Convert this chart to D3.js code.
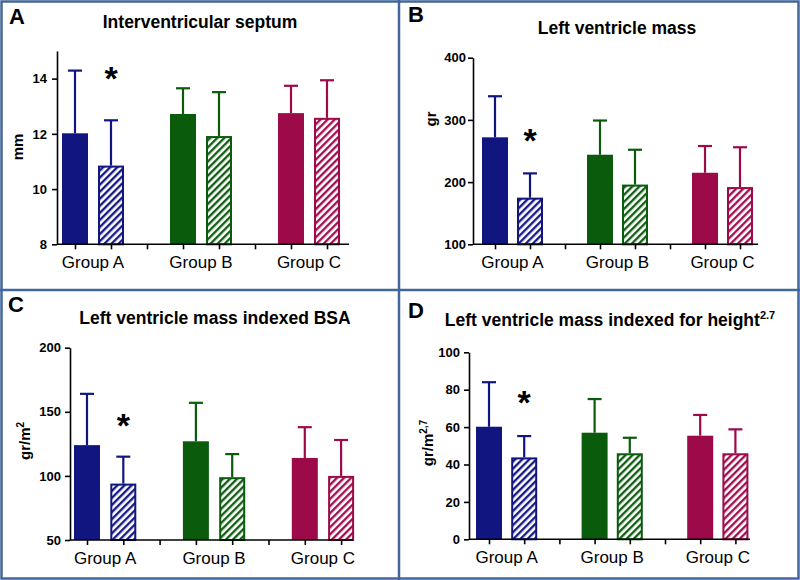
<!DOCTYPE html>
<html>
<head>
<meta charset="utf-8">
<script src="https://cdn.jsdelivr.net/npm/d3@7"></script>
<style>
  body { margin: 0; background: #fff; }
  svg text { font-family: Arial, "Liberation Sans", Helvetica, sans-serif; }
</style>
</head>
<body>
<div id="grafico"></div>
<script>
const width = 800;
const height = 580;

const groups = ['Group A', 'Group B', 'Group C'];
const groupColors = ['#11157f', '#0b5b0d', '#9c0a4a'];

// orden de barras: A lleno, A rayado, B lleno, B rayado, C lleno, C rayado
const septumMean = [12.02, 10.85, 12.72, 11.92, 12.75, 12.58];
const septumSD = [2.27, 1.64, 0.93, 1.59, 0.99, 1.36];
const septumTicks = [8, 10, 12, 14];

const massMean = [272, 175, 244, 196, 215, 192];
const massSD = [66, 39, 55, 56, 43, 64];
const massTicks = [100, 200, 300, 400];

const bsaMean = [124, 94, 127, 99, 114, 100];
const bsaSD = [40, 21, 30, 18, 24, 28];
const bsaTicks = [50, 100, 150, 200];

const heightMean = [60.2, 43.8, 57, 46, 55.4, 46];
const heightSD = [23.8, 11.4, 18, 8.3, 11.1, 12.8];
const heightTicks = [0, 20, 40, 60, 80, 100];

// nivel (en unidades del eje) del asterisco sobre la barra rayada del grupo A
const starLevels = [14.25, 277, 144, 76.6];

const panels = [
    { letter: 'A', title: 'Interventricular septum', sup: null, ylabel: 'mm', ysup: null,
      mean: septumMean, sd: septumSD, ticks: septumTicks, domain: [8, 15], star: starLevels[0],
      ox: 0, oy: 0, top: 51, bottom: 244.3, axisL: 57, axisR: 349, first: 75, step: 36,
      letterY: 24, letterX: 9, titleX: 200, titleY: 28, ylabX: 23, ylabY: 147, pad: 5 },
    { letter: 'B', title: 'Left ventricle mass', sup: null, ylabel: 'gr', ysup: null,
      mean: massMean, sd: massSD, ticks: massTicks, domain: [100, 400], star: starLevels[1],
      ox: 400, oy: 0, top: 57.7, bottom: 244.3, axisL: 73, axisR: 358, first: 95, step: 35,
      letterY: 22, letterX: 8, titleX: 217, titleY: 34, ylabX: 36, ylabY: 119, pad: 2 },
    { letter: 'C', title: 'Left ventricle mass indexed BSA', sup: null, ylabel: 'gr/m', ysup: '2',
      mean: bsaMean, sd: bsaSD, ticks: bsaTicks, domain: [50, 200], star: starLevels[2],
      ox: 0, oy: 290, top: 57.7, bottom: 250, axisL: 70, axisR: 353, first: 87, step: 36.3,
      letterY: 22, letterX: 8, titleX: 215, titleY: 34, ylabX: 30, ylabY: 151, pad: 4 },
    { letter: 'D', title: 'Left ventricle mass indexed for height', sup: '2.7', ylabel: 'gr/m', ysup: '2,7',
      mean: heightMean, sd: heightSD, ticks: heightTicks, domain: [0, 100], star: starLevels[3],
      ox: 400, oy: 290, top: 62.3, bottom: 249.3, axisL: 69, axisR: 350, first: 89, step: 35.2,
      letterY: 28, letterX: 8, titleX: 210, titleY: 36, ylabX: 33, ylabY: 153, pad: 4 }
];

const svg = d3.select('#grafico')
    .append('svg')
    .attr('width', width)
    .attr('height', height);

// patrones de rayas diagonales
const defs = svg.append('defs');
groupColors.forEach((c, i) => {
    const p = defs.append('pattern')
        .attr('id', 'hatch' + i)
        .attr('patternUnits', 'userSpaceOnUse')
        .attr('width', 5)
        .attr('height', 5)
        .attr('patternTransform', 'rotate(45)');
    p.append('rect').attr('width', 5).attr('height', 5).attr('fill', '#fff');
    p.append('line')
        .attr('x1', 1.2).attr('y1', 0).attr('x2', 1.2).attr('y2', 5)
        .attr('stroke', c)
        .attr('stroke-width', 2.3);
});

const barW = 26;
const slots = [0, 1, 3, 4, 6, 7]; // posiciones de las barras (2 y 5 son separadores)

panels.forEach(pn => {
    const g = svg.append('g').attr('transform', `translate(${pn.ox}, ${pn.oy})`);

    const x = d3.scaleLinear()
        .domain([0, 7])
        .range([pn.first, pn.first + 7 * pn.step]);

    const y = d3.scaleLinear()
        .domain(pn.domain)
        .range([pn.bottom, pn.top]);

    // letra del panel
    g.append('text')
        .attr('x', pn.letterX)
        .attr('y', pn.letterY)
        .style('font-size', '22px')
        .style('font-weight', 'bold')
        .text(pn.letter);

    // titulo
    const t = g.append('text')
        .attr('x', pn.titleX)
        .attr('y', pn.titleY)
        .attr('text-anchor', 'middle')
        .style('font-size', '17.5px')
        .style('font-weight', 'bold')
        .text(pn.title);
    if (pn.sup) {
        t.append('tspan')
            .attr('dy', -7)
            .style('font-size', '11px')
            .text(pn.sup);
    }

    // etiqueta eje y
    const yl = g.append('text')
        .attr('transform', `translate(${pn.ylabX}, ${pn.ylabY}) rotate(-90)`)
        .attr('text-anchor', 'middle')
        .style('font-size', '15px')
        .style('font-weight', 'bold')
        .text(pn.ylabel);
    if (pn.ysup) {
        yl.append('tspan')
            .attr('dy', -6)
            .style('font-size', '10px')
            .text(pn.ysup);
    }

    // barras
    pn.mean.forEach((m, i) => {
        const gi = Math.floor(i / 2);
        const hatched = i % 2 === 1;
        const cx = x(slots[i]);
        const color = groupColors[gi];

        // barra de error (solo hacia arriba)
        g.append('line')
            .attr('x1', cx).attr('x2', cx)
            .attr('y1', y(m)).attr('y2', y(m + pn.sd[i]))
            .attr('stroke', color)
            .attr('stroke-width', 2.2);
        g.append('line')
            .attr('x1', cx - 7).attr('x2', cx + 7)
            .attr('y1', y(m + pn.sd[i])).attr('y2', y(m + pn.sd[i]))
            .attr('stroke', color)
            .attr('stroke-width', 2.2);

        if (hatched) {
            g.append('rect')
                .attr('x', cx - barW / 2 + 1)
                .attr('y', y(m) + 1)
                .attr('width', barW - 2)
                .attr('height', y(pn.domain[0]) - y(m) - 1)
                .attr('fill', `url(#hatch${gi})`)
                .attr('stroke', color)
                .attr('stroke-width', 2);
        } else {
            g.append('rect')
                .attr('x', cx - barW / 2)
                .attr('y', y(m))
                .attr('width', barW)
                .attr('height', y(pn.domain[0]) - y(m))
                .attr('fill', color);
        }
    });

    // eje y
    const yAxis = g.append('g')
        .attr('transform', `translate(${pn.axisL}, 0)`)
        .call(d3.axisLeft(y).tickValues(pn.ticks).tickFormat(d3.format('d'))
            .tickSize(5).tickPadding(pn.pad).tickSizeOuter(0));
    yAxis.select('.domain').attr('stroke-width', 1.6);
    yAxis.selectAll('line').attr('stroke-width', 1.6);
    yAxis.selectAll('text')
        .style('font-size', '13px')
        .style('font-weight', 'bold')
        .attr('fill', '#000');

    // eje x
    const xAxis = g.append('g')
        .attr('transform', `translate(0, ${pn.bottom})`)
        .call(d3.axisBottom(x).tickValues(d3.range(8)).tickSize(5).tickFormat(''));
    xAxis.select('.domain').remove();
    xAxis.selectAll('line').attr('stroke-width', 1.6);
    g.append('line')
        .attr('x1', pn.axisL).attr('x2', pn.axisR)
        .attr('y1', pn.bottom).attr('y2', pn.bottom)
        .attr('stroke', '#000')
        .attr('stroke-width', 1.6);

    // etiquetas de grupo
    g.selectAll('.grp')
        .data(groups)
        .enter()
        .append('text')
        .attr('class', 'grp')
        .attr('x', (d, i) => x(i * 3 + 0.5))
        .attr('y', pn.bottom + 23.5)
        .attr('text-anchor', 'middle')
        .style('font-size', '17px')
        .text(d => d);

    // asterisco
    g.append('text')
        .attr('x', x(1))
        .attr('y', y(pn.star) + 18)
        .attr('text-anchor', 'middle')
        .style('font-size', '34px')
        .style('font-weight', 'bold')
        .text('*');
});

// marcos de los paneles
svg.append('rect')
    .attr('x', 1.5).attr('y', 1.5)
    .attr('width', width - 3).attr('height', height - 3)
    .attr('fill', 'none')
    .attr('stroke', '#41679a')
    .attr('stroke-width', 2.5);
svg.append('line')
    .attr('x1', 399).attr('x2', 399).attr('y1', 0).attr('y2', height)
    .attr('stroke', '#41679a').attr('stroke-width', 2.5);
svg.append('line')
    .attr('x1', 0).attr('x2', width).attr('y1', 290).attr('y2', 290)
    .attr('stroke', '#41679a').attr('stroke-width', 2.5);
</script>
</body>
</html>
